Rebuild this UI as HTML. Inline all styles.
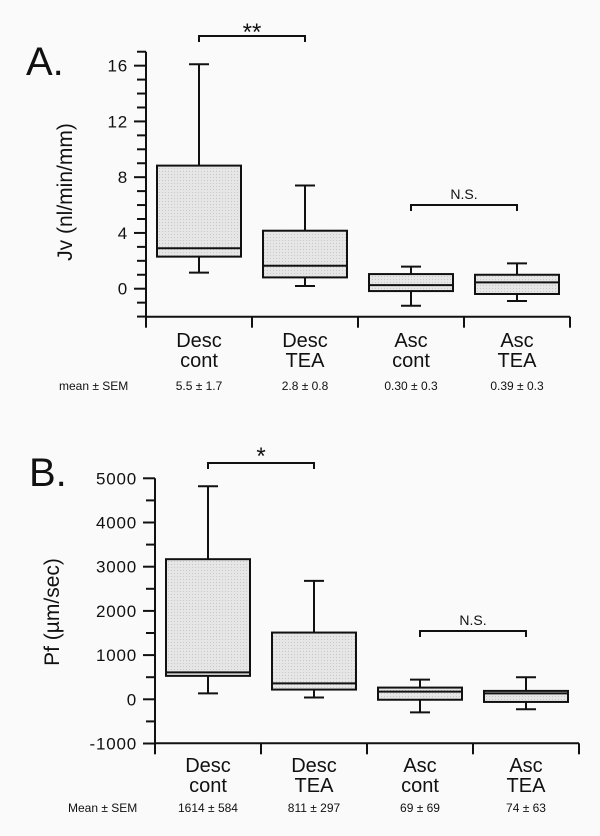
<!DOCTYPE html>
<html><head><meta charset="utf-8">
<style>
html,body{margin:0;padding:0;background:#fafafa;}
svg{display:block;font-family:"Liberation Sans",sans-serif;}
</style></head>
<body>
<svg id="fig" width="600" height="836" viewBox="0 0 600 836">
<defs>
<pattern id="dots" width="3" height="3" patternUnits="userSpaceOnUse">
<rect width="3" height="3" fill="#e6e6e6"/><rect width="1" height="1" fill="#c8c8c8"/>
</pattern>
</defs>
</svg>
<script>
// ---- Panel A data ----
const catsA = [["Desc","cont"],["Desc","TEA"],["Asc","cont"],["Asc","TEA"]];
const whiskLowA = [1.15, 0.19, -1.22, -0.88];
const q1A = [2.3, 0.81, -0.17, -0.38];
const medA = [2.9, 1.65, 0.26, 0.45];
const q3A = [8.83, 4.16, 1.05, 1.0];
const whiskHighA = [16.1, 7.4, 1.58, 1.82];
const ticksA = [0, 4, 8, 12, 16];
const meansA = ["5.5 ± 1.7", "2.8 ± 0.8", "0.30 ±  0.3", "0.39 ± 0.3"];
// ---- Panel B data ----
const catsB = [["Desc","cont"],["Desc","TEA"],["Asc","cont"],["Asc","TEA"]];
const whiskLowB = [135, 40, -295, -225];
const q1B = [530, 220, -10, -60];
const medB = [610, 360, 175, 135];
const q3B = [3170, 1510, 265, 190];
const whiskHighB = [4820, 2680, 445, 500];
const ticksB = [-1000, 0, 1000, 2000, 3000, 4000, 5000];
const meansB = ["1614 ± 584", "811 ± 297", "69 ± 69", "74 ± 63"];

const NS = "http://www.w3.org/2000/svg";
const svg = document.getElementById('fig');
function mk(tag, attrs, parent) {
  const e = document.createElementNS(NS, tag);
  for (const k in attrs) e.setAttribute(k, attrs[k]);
  (parent || svg).appendChild(e);
  return e;
}
function line(x1,y1,x2,y2,g,name){
  const l = mk('line',{x1,y1,x2,y2,stroke:'#111','stroke-width':2},g);
  
  
  return l;
}
function text(x,y,s,size,anchor,g,name,extra){
  const t = mk('text',Object.assign({x,y,'font-size':size,'text-anchor':anchor,fill:'#111'},extra||{}),g);
  t.textContent = s;
  
  
  return t;
}

function panel(cfg){
  const g = mk('g',{});
  
  
  const y = v => cfg.y0 - v*cfg.ppu;
  const ax = cfg.axisX, right = cfg.right, base = cfg.baseY;
  line(ax, y(cfg.yTop), ax, base, g, 'y-axis');
  for (let v = cfg.yMin; v <= cfg.yTop + 1e-9; v += cfg.minor) {
    const major = cfg.ticks.some(t => Math.abs(t - v) < 1e-9);
    line(ax - (major?12:9), y(v), ax, y(v), g, major?'y-major-tick':'y-minor-tick');
  }
  cfg.ticks.forEach(t => text(cfg.tickRight, y(t)+6, String(t), 17, 'end', g, 'y-tick-label', {'letter-spacing':'0.8'}));
  line(ax, base, right, base, g, 'x-axis');
  const bw = (right-ax)/cfg.cats.length;
  for (let i=0;i<=cfg.cats.length;i++) line(ax+bw*i, base, ax+bw*i, base+11, g, 'x-separator-tick');
  text(cfg.titleX, cfg.titleY, cfg.yTitle, 21, 'middle', g, 'y-axis-title', {transform:`rotate(-90 ${cfg.titleX} ${cfg.titleY})`});
  text(cfg.letterX, cfg.letterY, cfg.letter, 40, 'start', g, 'panel-label');
  cfg.cats.forEach((c,i)=>{
    const cx = ax + bw*(i+0.5), hw = 42;
    const bg = mk('g',{},g);
    
    
    line(cx, y(cfg.hi[i]), cx, y(cfg.q3[i]), bg, 'upper-whisker');
    line(cx-10, y(cfg.hi[i]), cx+10, y(cfg.hi[i]), bg, 'upper-cap');
    line(cx, y(cfg.q1[i]), cx, y(cfg.lo[i]), bg, 'lower-whisker');
    line(cx-10, y(cfg.lo[i]), cx+10, y(cfg.lo[i]), bg, 'lower-cap');
    const r = mk('rect',{x:cx-hw,y:y(cfg.q3[i]),width:hw*2,height:y(cfg.q1[i])-y(cfg.q3[i]),fill:'url(#dots)',stroke:'#111','stroke-width':2},bg);
    
    
    line(cx-hw, y(cfg.med[i]), cx+hw, y(cfg.med[i]), bg, 'median-line');
    text(cx, cfg.labY, c[0], 20, 'middle', g, 'category-label');
    text(cx, cfg.labY+20, c[1], 20, 'middle', g, 'category-label');
    text(cx, cfg.meanY, cfg.means[i], 12, 'middle', g, 'mean-sem-value');
  });
  text(cfg.meanLabX, cfg.meanY, cfg.meanLab, 12, 'start', g, 'mean-sem-label');
  cfg.brackets.forEach(b=>{
    const x1 = ax + bw*(b.a+0.5), x2 = ax + bw*(b.b+0.5);
    line(x1, b.y, x2, b.y, g, 'significance-bracket');
    line(x1, b.y-1, x1, b.y+6, g, 'bracket-end');
    line(x2, b.y-1, x2, b.y+6, g, 'bracket-end');
    text((x1+x2)/2, b.ty, b.label, b.size, 'middle', g, 'significance-label');
  });
}

panel({name:'panel-a', letter:'A.', letterX:26, letterY:75,
  axisX:146, right:570, baseY:316.7, y0:288.7, ppu:13.94, yTop:17, yMin:-2, minor:1,
  ticks:ticksA, cats:catsA, lo:whiskLowA, q1:q1A, med:medA, q3:q3A, hi:whiskHighA,
  tickRight:128, yTitle:'Jv (nl/min/mm)', titleX:72, titleY:192, labY:347, meanY:390,
  means:meansA, meanLab:'mean ± SEM', meanLabX:59,
  brackets:[{a:0,b:1,y:36,ty:40,label:'**',size:24},{a:2,b:3,y:205,ty:199,label:'N.S.',size:14}]});

panel({name:'panel-b', letter:'B.', letterX:29, letterY:486,
  axisX:155, right:579, baseY:743.3, y0:699.3, ppu:0.0442, yTop:5000, yMin:-1000, minor:500,
  ticks:ticksB, cats:catsB, lo:whiskLowB, q1:q1B, med:medB, q3:q3B, hi:whiskHighB,
  tickRight:137, yTitle:'Pf (µm/sec)', titleX:59, titleY:612, labY:772, meanY:812,
  means:meansB, meanLab:'Mean ± SEM', meanLabX:68,
  brackets:[{a:0,b:1,y:463,ty:464,label:'*',size:24},{a:2,b:3,y:631,ty:625,label:'N.S.',size:14}]});
</script>
</body></html>
